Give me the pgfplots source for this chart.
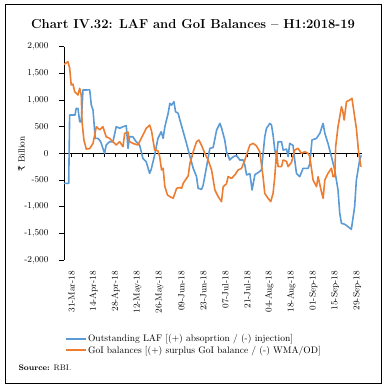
\documentclass[border=0pt]{standalone}
\usepackage{pgfplots}
\pgfplotsset{compat=1.18}
\usepackage{fontspec}
\newfontfamily\rupeefont{DejaVu Serif}
\definecolor{lafblue}{HTML}{5B9BD5}
\definecolor{goiorange}{HTML}{ED7D31}
\begin{document}
\begin{tikzpicture}
\path[use as bounding box] (0pt,0pt) rectangle (386pt,385pt);
\draw[line width=0.9pt] (5pt,1.5pt) rectangle (381.5pt,381pt);
\node[font=\bfseries\fontsize{13}{15}\selectfont, anchor=base] at (193pt,356pt) {Chart IV.32: LAF and GoI Balances -- H1:2018-19};
\node[rotate=90, font=\fontsize{9}{11}\selectfont] at (21.5pt,231pt) {{\rupeefont ₹} Billion};
\node[anchor=base west, font=\fontsize{8}{10}\selectfont] at (15pt,14pt) {\textbf{Source:} RBI.};
% zero line with weekly ticks
\begin{axis}[
  at={(64pt,125pt)}, anchor=south west, scale only axis,
  width=297.7pt, height=213.3pt,
  xmin=-4.9, xmax=184.9, ymin=-2000, ymax=2000,
  axis x line*=middle, axis y line=none,
  xtick={0,7,...,182}, xticklabels={},
  x axis line style={black, line width=0.8pt},
  xtick style={black, line width=0.7pt},
  xtick align=outside, major tick length=4pt,
]
\end{axis}
\begin{axis}[
  at={(64pt,125pt)}, anchor=south west, scale only axis,
  width=297.7pt, height=213.3pt,
  xmin=-4.9, xmax=184.9, ymin=-2000, ymax=2000,
  axis x line*=bottom, axis y line*=left,
  x axis line style={draw=none},
  y axis line style={black, line width=0.8pt},
  xtick={0,14,...,182},
  xticklabels={31-Mar-18,14-Apr-18,28-Apr-18,12-May-18,26-May-18,09-Jun-18,23-Jun-18,07-Jul-18,21-Jul-18,04-Aug-18,18-Aug-18,01-Sep-18,15-Sep-18,29-Sep-18},
  xticklabel style={rotate=90, anchor=east, font=\fontsize{9}{11}\selectfont, inner sep=0pt},
  xticklabel shift=6pt,
  x tick style={draw=none},
  ytick={-2000,-1500,...,2000},
  y tick style={black, line width=0.7pt},
  tick align=outside, major tick length=5pt,
  yticklabel style={font=\fontsize{9}{11}\selectfont, /pgf/number format/assume math mode=true, /pgf/number format/1000 sep={,}, xshift=-7pt},
  legend style={draw=none, fill=none, at={(0.003,-0.343)}, anchor=north west, inner sep=0pt, row sep=1pt, font=\fontsize{9.5}{11}\selectfont, cells={anchor=west}, nodes={inner sep=1pt}},
  legend image code/.code={\draw[#1, line width=2pt] (0pt,0pt) -- (20pt,0pt);},
]
\addplot[lafblue, line width=1.6pt, line join=round] coordinates {
(-4.9,-562) (-1.9,-562) (-1.3,718) (0.2,720) (2.1,718) (2.9,843) (4.0,843) (5.1,593) (6.1,593)
(7.2,1187) (11.5,1190) (12.5,906) (13.6,812) (15.0,281) (16.8,281) (18.5,218) (21.0,0) (22.0,156)
(24.2,218) (26.3,218) (28.4,500) (30.6,470) (32.7,500) (34.8,518) (35.9,93) (36.9,312) (39.0,312)
(41.1,218) (43.3,156) (45.4,-94) (47.5,-156) (49.7,-375) (50.7,-300) (52.9,-31) (55.0,281) (57.1,406)
(58.3,281) (59.4,500) (61.5,750) (62.6,937) (63.7,906) (65.2,968) (66.2,781) (67.9,750) (69.0,625)
(71.1,406) (73.2,187) (75.4,-62) (77.5,-281) (79.6,-437) (80.6,-656) (82.8,-675) (83.8,-600) (86.0,-250)
(88.1,94) (90.2,110) (92.4,437) (94.5,562) (95.5,480) (97.6,250) (98.7,31) (100.8,-125) (103.0,-62)
(105.1,-40) (107.2,-125) (109.3,-125) (110.4,-219) (111.5,-406) (113.6,-380) (115.0,-687) (116.8,-400)
(118.9,-360) (121.0,-312) (123.1,312) (124.2,468) (126.3,562) (127.4,530) (128.4,343) (129.5,62)
(130.6,-62) (131.6,218) (133.8,218) (134.8,62) (137.0,80) (138.0,-62) (139.0,187) (141.1,150)
(142.2,-125) (143.3,-375) (145.4,-437) (147.5,-281) (150.7,-281) (151.8,-200) (153.2,250) (156.1,281)
(158.2,375) (160.3,562) (161.4,375) (163.4,187) (165.6,-62) (167.7,-312) (169.8,-687) (170.9,-1125)
(172.0,-1312) (174.1,-1330) (176.2,-1375) (178.3,-1425) (180.4,-1000) (181.5,-500) (183.6,-125) (184.7,-31)
};
\addlegendentry{Outstanding LAF [(+) absoprtion / (-) injection]}
\addplot[goiorange, line width=1.6pt, line join=round] coordinates {
(-4.9,1668) (-2.4,1718) (-1.3,1600) (-0.3,1281) (0.8,1300) (1.9,1156) (4.0,1093) (5.1,1218) (6.1,1093)
(6.6,593) (7.8,250) (9.3,80) (11.5,90) (13.6,187) (15.7,500) (17.8,440) (19.9,500) (22.0,312)
(24.2,280) (26.3,218) (28.4,156) (30.6,218) (32.7,125) (33.8,375) (35.9,400) (36.9,218) (39.0,187)
(42.2,156) (45.4,343) (47.5,468) (49.7,530) (50.9,420) (52.9,62) (55.0,50) (56.1,-62) (57.3,-312)
(58.3,-280) (59.4,-625) (61.1,-781) (62.6,-812) (64.7,-843) (65.8,-750) (66.9,-656) (69.0,-640)
(70.1,-656) (71.1,-562) (73.2,-468) (74.3,-420) (75.4,-187) (77.5,31) (79.6,218) (81.1,250) (82.8,150)
(84.9,0) (87.0,-125) (89.2,-312) (91.3,-687) (93.4,-812) (95.5,-906) (96.6,-625) (98.7,-570) (99.7,-437)
(101.9,-470) (104.0,-406) (106.1,-312) (108.3,-281) (110.4,-125) (113.6,156) (115.7,187) (117.8,140)
(119.9,31) (122.0,-437) (123.1,-750) (125.2,-843) (126.9,-906) (128.4,-750) (129.5,-437) (130.6,31)
(131.6,-250) (133.8,-250) (134.8,-125) (137.0,-150) (138.0,-250) (140.1,-170) (142.2,62) (144.3,94)
(146.5,0) (148.6,30) (150.7,0) (151.8,-62) (153.9,-500) (156.1,-625) (157.1,-437) (159.2,-718)
(160.3,-843) (161.4,-500) (163.4,-375) (165.6,-280) (166.6,-437) (167.7,-437) (168.3,125) (169.8,500)
(170.9,687) (172.0,875) (172.8,800) (173.7,625) (175.2,968) (177.3,1000) (178.7,1031) (180.4,687)
(181.5,468) (183.0,0) (184.3,-237) (184.9,-250)
};
\addlegendentry{GoI balances [(+) surplus GoI balance / (-) WMA/OD]}
\end{axis}
\end{tikzpicture}
\end{document}
